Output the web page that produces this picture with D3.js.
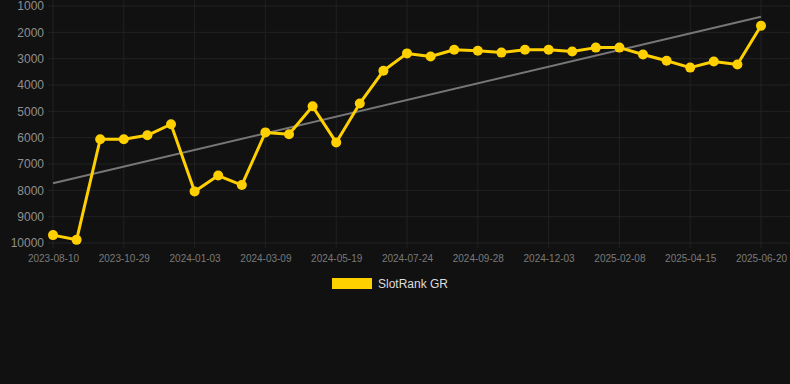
<!DOCTYPE html>
<html>
<head>
<meta charset="utf-8">
<script src="https://cdn.jsdelivr.net/npm/d3@7"></script>
<style>
  html, body { margin: 0; padding: 0; background: #111111; }
  svg { display: block; font-family: "Liberation Sans", Arial, sans-serif; }
</style>
</head>
<body>
<svg id="chart" width="790" height="384"></svg>
<script>
// dates (every third one is shown on the axis)
var dates = [
  "2023-08-10", "2023-09-06", "2023-10-03", "2023-10-29", "2023-11-20", "2023-12-12",
  "2024-01-03", "2024-01-24", "2024-02-16", "2024-03-09", "2024-04-01", "2024-04-25",
  "2024-05-19", "2024-06-10", "2024-07-02", "2024-07-24", "2024-08-15", "2024-09-06",
  "2024-09-28", "2024-10-20", "2024-11-11", "2024-12-03", "2024-12-25", "2025-01-17",
  "2025-02-08", "2025-03-02", "2025-03-24", "2025-04-15", "2025-05-07", "2025-05-29",
  "2025-06-20"
];
var ranks = [
  9700, 9880, 6060, 6060, 5910, 5490,
  8040, 7440, 7800, 5800, 5870, 4810,
  6180, 4700, 3460, 2800, 2920, 2660,
  2700, 2770, 2660, 2660, 2730, 2580,
  2580, 2840, 3080, 3340, 3110, 3220,
  1750
];
var yTicks = [1000, 2000, 3000, 4000, 5000, 6000, 7000, 8000, 9000, 10000];
var tickDates = ["2023-08-10", "2023-10-29", "2024-01-03", "2024-03-09", "2024-05-19",
  "2024-07-24", "2024-09-28", "2024-12-03", "2025-02-08", "2025-04-15", "2025-06-20"];
var seriesName = "SlotRank GR";

var svg = d3.select("#chart");
var plotLeft = 53, plotRight = 761, plotTop = 6, plotBottom = 243;

var x = d3.scalePoint().domain(dates).range([plotLeft, plotRight]);
var y = d3.scaleLinear().domain([1000, 10000]).range([plotTop, plotBottom]);

// grid
svg.append("g").selectAll("line").data(yTicks).enter().append("line")
  .attr("x1", 48).attr("x2", 790)
  .attr("y1", function(d) { return y(d); }).attr("y2", function(d) { return y(d); })
  .attr("stroke", "#222222").attr("stroke-width", 1);
svg.append("g").selectAll("line").data(tickDates).enter().append("line")
  .attr("x1", function(d) { return x(d); }).attr("x2", function(d) { return x(d); })
  .attr("y1", 0).attr("y2", plotBottom + 5)
  .attr("stroke", "#222222").attr("stroke-width", 1);

// axes
var yAxis = svg.append("g")
  .attr("transform", "translate(44,0)")
  .call(d3.axisLeft(y).tickValues(yTicks).tickSize(0).tickPadding(0).tickFormat(d3.format("d")));
yAxis.select(".domain").remove();
yAxis.selectAll("text").attr("fill", "#8f8f8f").style("font-size", "12px");

var xAxis = svg.append("g")
  .attr("transform", "translate(0," + plotBottom + ")")
  .call(d3.axisBottom(x).tickValues(tickDates).tickSize(0).tickPadding(12));
xAxis.select(".domain").remove();
xAxis.selectAll("text").attr("fill", "#7a7a7a").style("font-size", "10px");

// trend line (least squares on index)
var n = ranks.length, mx = (n - 1) / 2, my = d3.mean(ranks);
var sxy = d3.sum(ranks, function(v, i) { return (i - mx) * (v - my); });
var sxx = d3.sum(ranks, function(v, i) { return (i - mx) * (i - mx); });
var slope = sxy / sxx, icpt = my - slope * mx;
svg.append("line")
  .attr("x1", x(dates[0])).attr("y1", y(icpt))
  .attr("x2", x(dates[n - 1])).attr("y2", y(icpt + slope * (n - 1)))
  .attr("stroke", "#777777").attr("stroke-width", 2);

// series
var line = d3.line()
  .x(function(d, i) { return x(dates[i]); })
  .y(function(d) { return y(d); });
svg.append("path")
  .datum(ranks)
  .attr("fill", "none")
  .attr("stroke", "#ffd000")
  .attr("stroke-width", 3)
  .attr("stroke-linejoin", "round")
  .attr("d", line);
svg.append("g").selectAll("circle").data(ranks).enter().append("circle")
  .attr("cx", function(d, i) { return x(dates[i]); })
  .attr("cy", function(d) { return y(d); })
  .attr("r", 5)
  .attr("fill", "#ffd000");

// legend
var lg = svg.append("g").attr("transform", "translate(332,278)");
lg.append("rect").attr("width", 40).attr("height", 11).attr("fill", "#ffd000");
lg.append("text").attr("x", 46).attr("y", 10).attr("fill", "#dddddd")
  .style("font-size", "12px").text(seriesName);
</script>
</body>
</html>
